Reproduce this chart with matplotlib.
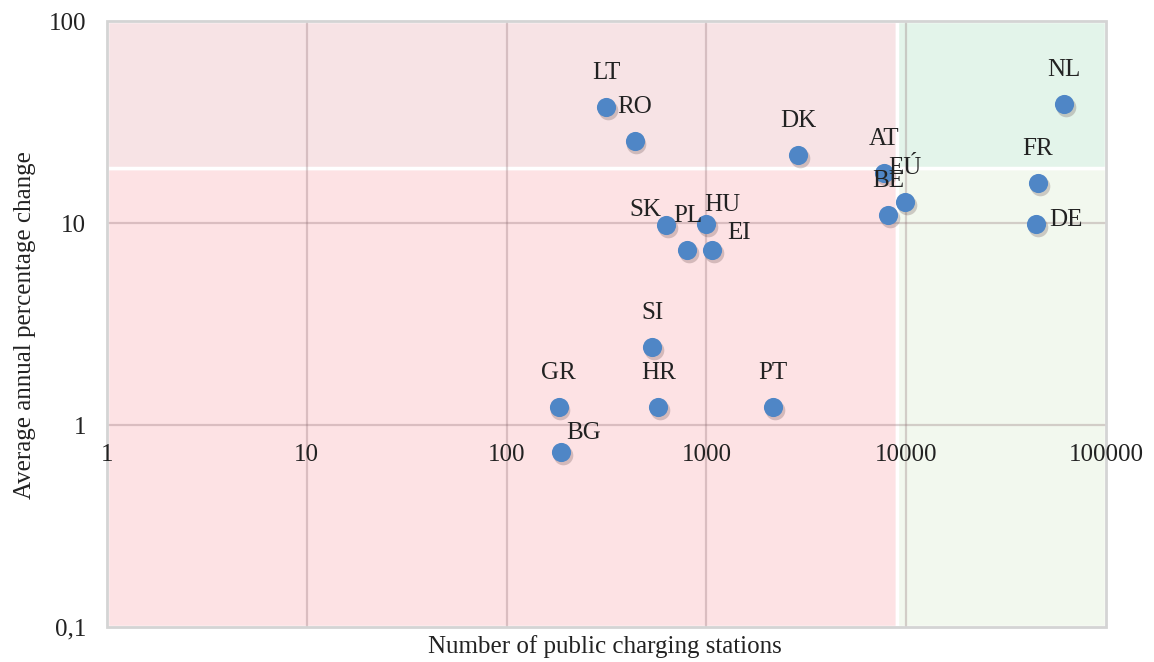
import numpy as np
import matplotlib
matplotlib.use('Agg')
import matplotlib.pyplot as plt
import matplotlib.transforms as mtransforms
from matplotlib.patches import Rectangle

# Data
countries = ['LT', 'RO', 'DK', 'NL', 'AT', 'EÚ', 'BE', 'FR', 'DE', 'SK',
             'PL', 'HU', 'EI', 'SI', 'GR', 'HR', 'PT', 'BG']
stations = [316, 437, 2880, 61700, 7760, 9890, 8130, 45700, 44700, 631,
            803, 1000, 1070, 537, 182, 575, 2160, 188]
change = [37.5, 25.5, 21.7, 38.8, 17.7, 12.7, 11.0, 15.8, 9.9, 9.8,
          7.35, 9.9, 7.35, 2.43, 1.23, 1.23, 1.23, 0.735]
x_ticks = [1, 10, 100, 1000, 10000, 100000]
x_tick_labels = ['1', '10', '100', '1000', '10000', '100000']
y_ticks = [0.1, 1, 10, 100]
y_tick_labels = ['0,1', '1', '10', '100']
x_split = 9000
y_split = 18.7

# label offsets in pixels (dx, dy, ha) - default is centred above the point
label_offsets = {
    'DE': (13, 4, 'left'),
    'SK': (-5, 15, 'right'),
    'HU': (-2, 19, 'left'),
    'EI': (15, 17, 'left'),
    'BG': (5, 19, 'left'),
}

plt.rcParams['font.family'] = ['Liberation Serif', 'DejaVu Serif']
plt.rcParams['font.size'] = 18

fig = plt.figure(figsize=(11.54, 6.62), dpi=100)
ax = fig.add_axes([107 / 1154, 1 - 627 / 662, 999 / 1154, 606 / 662])
ax.set_xscale('log')
ax.set_yscale('log')
ax.set_xlim(1, 100000)
ax.set_ylim(0.1, 100)

# quadrant backgrounds
quads = [
    ((1, 0.1), x_split - 1, y_split - 0.1, '#fde2e4'),
    ((1, y_split), x_split - 1, 100 - y_split, '#f7e3e5'),
    ((x_split, 0.1), 100000 - x_split, y_split - 0.1, '#f2f8ee'),
    ((x_split, y_split), 100000 - x_split, 100 - y_split, '#e3f4ea'),
]
for xy, w, h, c in quads:
    ax.add_patch(Rectangle(xy, w, h, facecolor=c, edgecolor='white',
                           linewidth=2.5, zorder=0.2))

# grid
for xv in x_ticks[1:-1]:
    ax.axvline(xv, color='#8a6a6e', alpha=0.3, linewidth=1.6, zorder=0.5)
for yv in y_ticks[1:-1]:
    ax.axhline(yv, color='#8a6a6e', alpha=0.3, linewidth=1.6, zorder=0.5)

# frame (x axis labels sit on the y=1 line, like the Excel original)
for s in ax.spines.values():
    s.set_visible(False)
ax.spines['bottom'].set_position(('data', 1))
ax.add_patch(Rectangle((0, 0), 1, 1, transform=ax.transAxes, fill=False,
                       edgecolor='#d4d4d4', linewidth=2, zorder=1,
                       clip_on=False))

ax.set_xticks(x_ticks)
ax.set_xticklabels(x_tick_labels)
ax.set_yticks(y_ticks)
ax.set_yticklabels(y_tick_labels)
ax.minorticks_off()
ax.tick_params(axis='both', length=0, labelcolor='#222222')
ax.tick_params(axis='x', pad=14)
ax.tick_params(axis='y', pad=15)

# markers with a soft shadow
shadow = mtransforms.offset_copy(ax.transData, fig=fig, x=1.5, y=-3, units='dots')
ax.scatter(stations, change, s=200, color='#5a4040', alpha=0.25,
           transform=shadow, linewidths=0, zorder=4)
ax.scatter(stations, change, s=190, color='#4f86c6', linewidths=0, zorder=5)

for name, xv, yv in zip(countries, stations, change):
    dx, dy, ha = label_offsets.get(name, (0, 34, 'center'))
    ax.annotate(name, (xv, yv), xytext=(dx * 0.72, dy * 0.72),
                textcoords='offset points', ha=ha, va='center',
                color='#222222', fontsize=18, zorder=6)

fig.text(605 / 1154, 1 - 647 / 662, 'Number of public charging stations',
         ha='center', va='center', color='#222222', fontsize=18)
fig.text(25 / 1154, 1 - 325 / 662, 'Average annual percentage change',
         ha='center', va='center', rotation=90, color='#222222', fontsize=18)

fig.savefig('out.png', dpi=100)
